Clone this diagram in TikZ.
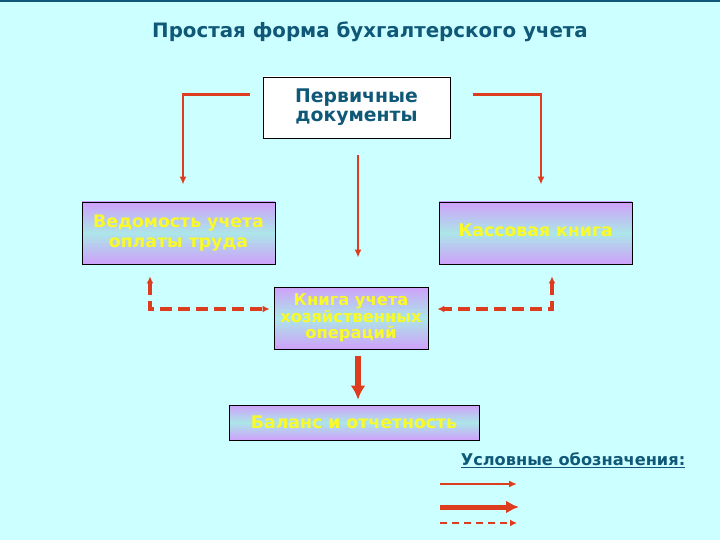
\documentclass[tikz,border=0pt]{standalone}
\usepackage{fontspec}
\setmainfont{DejaVu Sans}
\usetikzlibrary{arrows.meta, positioning}

\definecolor{bgcyan}{RGB}{204,255,255}
\definecolor{headteal}{RGB}{16,88,120}
\definecolor{arrred}{RGB}{222,60,30}
\definecolor{boxviolet}{RGB}{206,160,250}
\definecolor{boxmint}{RGB}{172,230,232}
\definecolor{txtyellow}{RGB}{250,250,40}

\begin{document}
\begin{tikzpicture}[
    x=1pt, y=-1pt,
    box/.style={rectangle, draw=black, line width=0.9pt, align=center, inner sep=2pt,
                font=\bfseries\fontsize{17.3}{20}\selectfont, text=txtyellow,
                top color=boxviolet, bottom color=boxviolet, middle color=boxmint},
    docbox/.style={box, fill=white, top color=white, bottom color=white, middle color=white,
                   text=headteal, font=\bfseries\fontsize{18.8}{19}\selectfont},
    arr/.style={-{Latex[length=8pt, width=7pt]}, arrred, line width=2.8pt},
    bigarr/.style={-{Latex[length=14pt, width=15pt]}, arrred, line width=5.5pt},
    dasharr/.style={{Latex[length=7pt, width=7pt]}-{Latex[length=7pt, width=7pt]}, arrred,
                    line width=3.4pt, dash pattern=on 12pt off 6pt}
]
% background and top rule
\fill[bgcyan] (0,0) rectangle (720,540);
\fill[headteal] (0,0) rectangle (720,2);
\useasboundingbox (0,0) rectangle (720,540);

\node[font=\bfseries\fontsize{19.8}{22}\selectfont, text=headteal] (title) at (370,32)
    {Простая форма бухгалтерского учета};

\node[docbox, minimum width=187pt, minimum height=61pt] (doc) at (356.5,107.5)
    {Первичные\\документы};
\node[box, minimum width=193pt, minimum height=62pt] (ved) at (178.5,233)
    {Ведомость учета\\оплаты труда};
\node[box, minimum width=193pt, minimum height=62pt, text depth=6pt] (kas) at (535.5,233)
    {Кассовая книга};
\node[box, minimum width=154pt, minimum height=62pt, font=\bfseries\fontsize{16.3}{16.5}\selectfont]
    (kniga) at (351,318) {Книга учета\\хозяйственных\\операций};
\node[box, minimum width=250pt, minimum height=35pt] (bal) at (354,422.5)
    {Баланс и отчетность};

\draw[arr] ([xshift=-13pt, yshift=13pt]doc.west) -| ([xshift=4.5pt, yshift=17pt]ved.north);
\draw[arr] ([xshift=23pt, yshift=13pt]doc.east) -| ([xshift=5.5pt, yshift=17pt]kas.north);
\draw[arr] ([xshift=1.5pt, yshift=-17pt]doc.south) -- ([xshift=7pt, yshift=29pt]kniga.north);
\draw[dasharr] ([xshift=-28.5pt, yshift=-12pt]ved.south) |- ([xshift=-4pt, yshift=9pt]kniga.west);
\draw[dasharr] ([xshift=16.5pt, yshift=-12pt]kas.south) |- ([xshift=9pt, yshift=9pt]kniga.east);
\draw[bigarr] ([xshift=7pt, yshift=-7pt]kniga.south) -- ([xshift=4pt, yshift=5pt]bal.north);

% legend
\node[font=\bfseries\fontsize{16.2}{18}\selectfont, text=headteal] (legend) at (573,460)
    {\underline{Условные обозначения:}};
\coordinate (thinA) at (440,484);  \coordinate (thinB) at (517,484);
\coordinate (thickA) at (440,507); \coordinate (thickB) at (519,507);
\coordinate (dashA) at (440,523);  \coordinate (dashB) at (517,523);
\draw[arr] (thinA) -- (thinB);
\draw[-{Latex[length=13pt, width=13pt]}, arrred, line width=5pt] (thickA) -- (thickB);
\draw[-{Latex[length=7pt, width=7pt]}, arrred, line width=2.4pt, dash pattern=on 7pt off 5pt] (dashA) -- (dashB);
\end{tikzpicture}
\end{document}
